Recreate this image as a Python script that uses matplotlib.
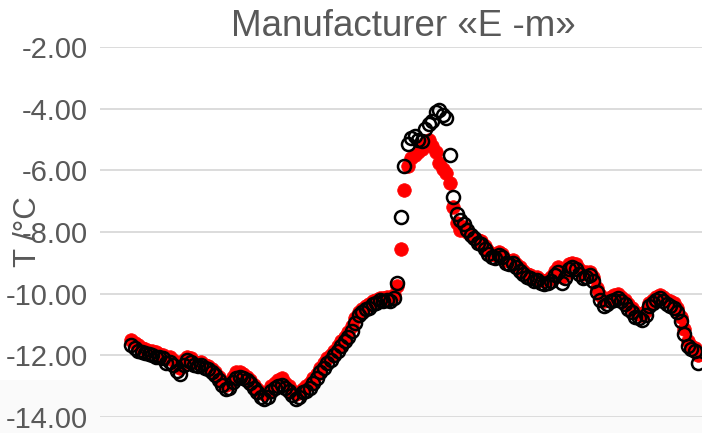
import matplotlib
matplotlib.use("Agg")
import matplotlib.pyplot as plt
import numpy as np
from matplotlib.patches import Rectangle

title = "Manufacturer «E -m»"
ylabel = "T /°C"
yticks = [-14, -12, -10, -8, -6, -4, -2]

black_T = [
    -11.65, -11.75, -11.85, -11.9, -11.92, -11.95, -12.0, -12.05, -12.05, -12.1,
    -12.25, -12.2, -12.3, -12.5, -12.6, -12.3, -12.15, -12.2, -12.3, -12.35,
    -12.3, -12.4, -12.45, -12.55, -12.65, -12.8, -12.95, -13.1, -13.05, -12.85,
    -12.75, -12.7, -12.75, -12.8, -12.9, -13.05, -13.2, -13.35, -13.4, -13.35,
    -13.15, -13.05, -13.0, -12.95, -13.05, -13.15, -13.3, -13.4, -13.35, -13.2,
    -13.15, -13.05, -12.9, -12.75, -12.55, -12.4, -12.25, -12.15, -12.0, -11.85,
    -11.7, -11.55, -11.4, -11.2, -10.95, -10.7, -10.6, -10.5, -10.45, -10.35,
    -10.3, -10.2, -10.25, -10.2, -10.25, -10.15, -9.65, -7.5, -5.85, -5.15,
    -4.95, -4.9, -5.0, -5.05, -4.65, -4.5, -4.4, -4.1, -4.05, -4.2,
    -4.3, -5.5, -6.85, -7.4, -7.6, -7.75, -7.95, -8.1, -8.2, -8.35,
    -8.4, -8.55, -8.7, -8.8, -8.85, -8.75, -8.8, -9.0, -9.05, -9.0,
    -9.15, -9.25, -9.35, -9.45, -9.5, -9.6, -9.55, -9.65, -9.7, -9.65,
    -9.6, -9.4, -9.3, -9.65, -9.5, -9.2, -9.15, -9.2, -9.35, -9.5,
    -9.45, -9.4, -9.6, -9.95, -10.2, -10.4, -10.35, -10.25, -10.2, -10.15,
    -10.25, -10.35, -10.5, -10.6, -10.75, -10.8, -10.85, -10.7, -10.4, -10.3,
    -10.2, -10.15, -10.25, -10.35, -10.4, -10.45, -10.6, -10.9, -11.3, -11.7,
    -11.8, -11.85, -12.25,
]

red_T = [
    -11.5, -11.6, -11.65, -11.75, -11.8, -11.85, -11.85, -11.9, -11.95, -12.0,
    -12.1, -12.05, -12.15, -12.3, -12.4, -12.15, -12.05, -12.1, -12.2, -12.25,
    -12.2, -12.3, -12.35, -12.45, -12.55, -12.7, -12.85, -12.95, -12.9, -12.7,
    -12.55, -12.55, -12.6, -12.7, -12.8, -12.95, -13.1, -13.2, -13.25, -13.2,
    -13.0, -12.9, -12.8, -12.75, -12.9, -13.0, -13.15, -13.25, -13.2, -13.1,
    -13.0, -12.9, -12.75, -12.6, -12.4, -12.25, -12.1, -12.0, -11.85, -11.7,
    -11.55, -11.4, -11.25, -11.05, -10.8, -10.6, -10.5, -10.4, -10.35, -10.25,
    -10.2, -10.15, -10.15, -10.1, -10.15, -10.05, -9.75, -8.55, -6.65, -5.85,
    -5.6, -5.5, -5.4, -5.3, -5.1, -5.0, -5.2, -5.4, -5.75, -5.95,
    -6.1, -6.4, -7.2, -7.7, -7.95, -7.85, -8.0, -8.1, -8.2, -8.25,
    -8.3, -8.45, -8.6, -8.7, -8.75, -8.65, -8.7, -8.9, -8.95, -8.9,
    -9.05, -9.15, -9.25, -9.35, -9.4, -9.5, -9.45, -9.55, -9.6, -9.55,
    -9.45, -9.25, -9.15, -9.45, -9.35, -9.05, -9.0, -9.05, -9.2, -9.35,
    -9.3, -9.3, -9.45, -9.8, -10.05, -10.25, -10.2, -10.1, -10.05, -10.0,
    -10.1, -10.2, -10.35, -10.45, -10.6, -10.65, -10.7, -10.55, -10.3, -10.2,
    -10.1, -10.05, -10.1, -10.2, -10.25, -10.3, -10.45, -10.75, -11.15, -11.55,
    -11.7, -11.75, -12.0,
]

sample = np.arange(len(black_T))

W, H = 702, 433
fig = plt.figure(figsize=(W / 100, H / 100), dpi=100)
fig.patch.set_facecolor("white")
# very faint grey band at the bottom of the picture
fig.patches.append(Rectangle((0, 0), 1, 53 / H, transform=fig.transFigure,
                             facecolor="#fafafa", edgecolor="none", zorder=-10))

ax = fig.add_axes([100 / W, (H - 417) / H, (W - 100) / W, (417 - 47) / H])
ax.set_facecolor("none")

ax.plot(sample, red_T, linestyle="none", marker="o", markersize=9.8,
        markerfacecolor="#ff0000", markeredgecolor="#ff0000", markeredgewidth=0.5,
        zorder=3)
ax.plot(sample, black_T, linestyle="none", marker="o", markersize=9.4,
        markerfacecolor="none", markeredgecolor="black", markeredgewidth=1.8,
        zorder=4)

ax.set_ylim(-14, -2)
ax.set_xlim(-8.86, 163.1)
ax.set_yticks(yticks)
ax.set_yticklabels([f"{v:.2f}" for v in yticks])
ax.yaxis.grid(True, color="#d9d9d9", linewidth=1.3)
ax.set_axisbelow(True)
ax.set_xticks([])
for s in ax.spines.values():
    s.set_visible(False)
ax.tick_params(axis="y", length=0, pad=8.5, labelsize=21, labelcolor="#595959")
for lab in ax.get_yticklabels():
    lab.set_family("Liberation Sans")

fig.text(28 / W, 1 - 232 / H, ylabel, ha="center", va="center", rotation=90,
         fontsize=22.5, color="#595959", family="Liberation Sans")
fig.text(403 / W, 1 - 27 / H, title, ha="center", va="center", fontsize=26.5,
         color="#595959", family="Liberation Sans")

fig.savefig("out.png", dpi=100)
